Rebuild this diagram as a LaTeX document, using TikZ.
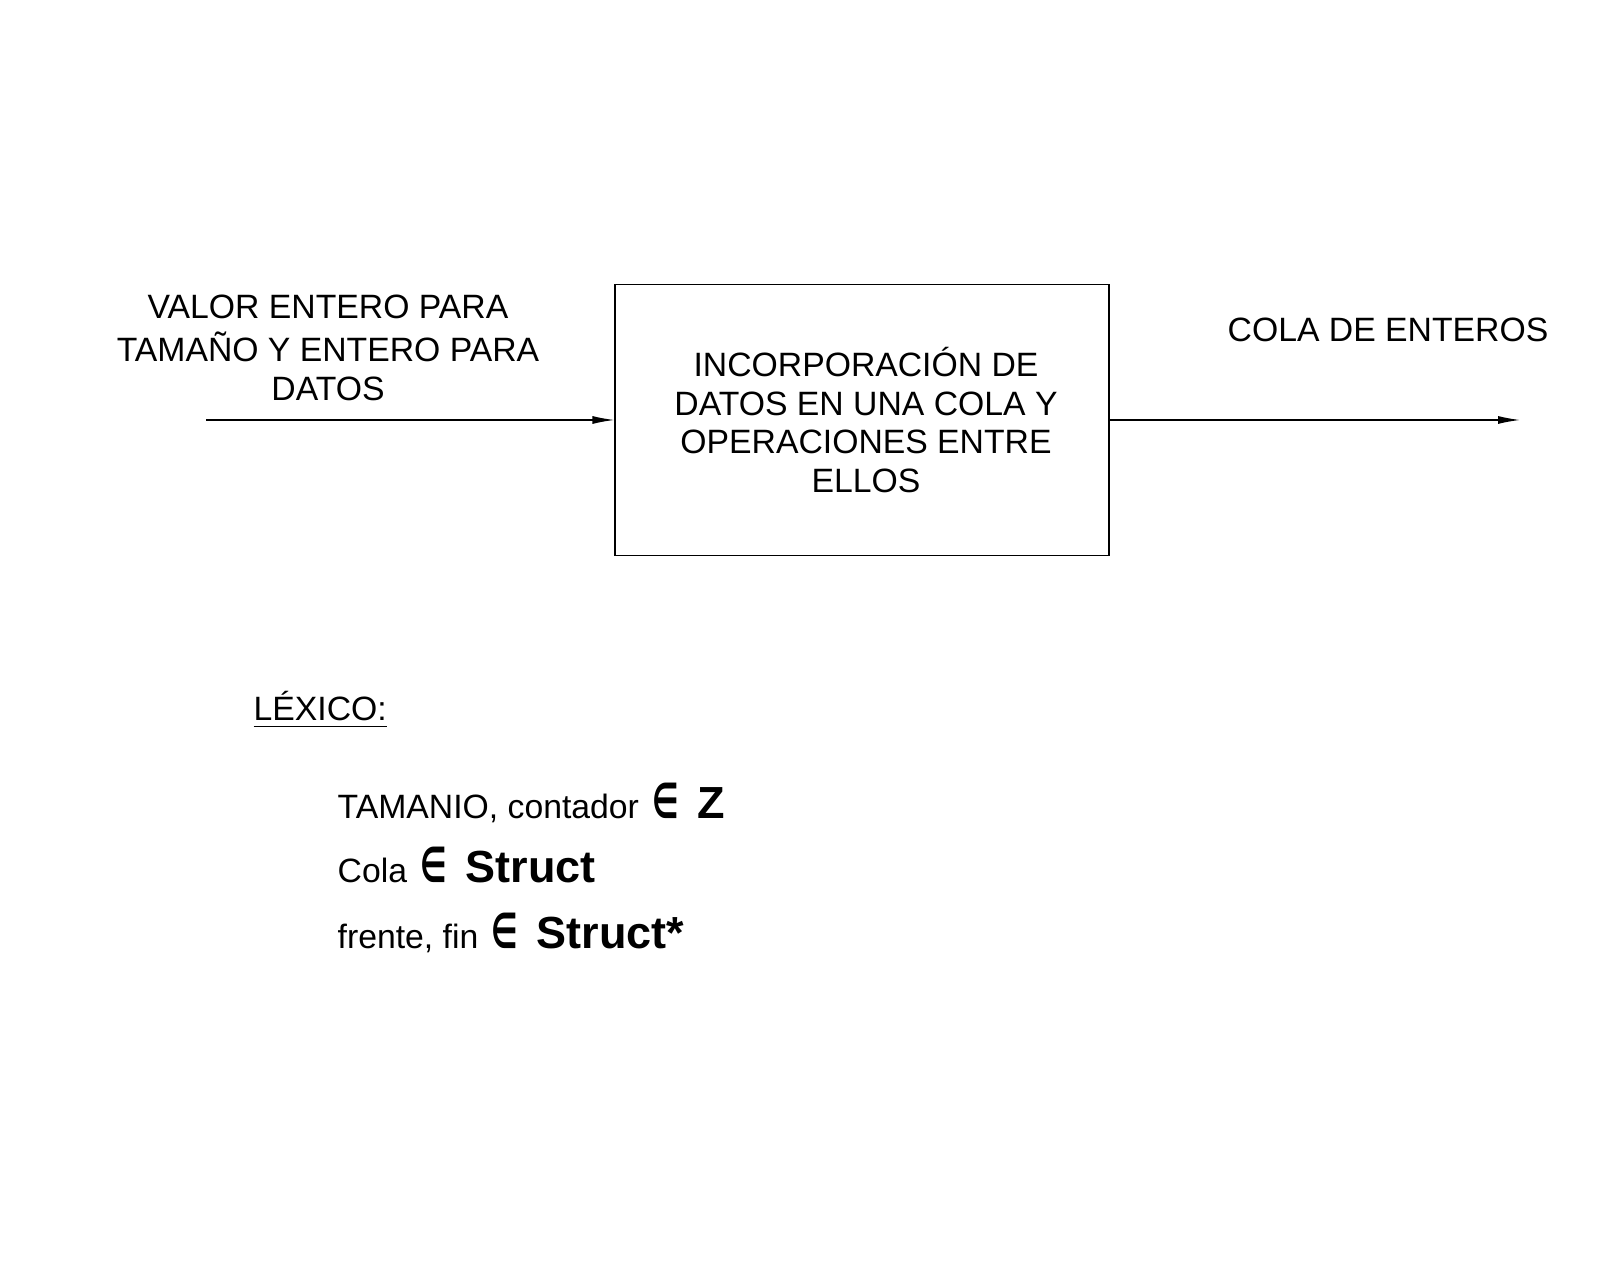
\documentclass[tikz,border=0pt]{standalone}
\usepackage{graphicx}
\usepackage{fontspec}
\setmainfont{Liberation Sans}
\newfontfamily\symfont{DejaVu Sans}
\usetikzlibrary{arrows.meta}

\newcommand{\pertenece}{\hspace{0.4mm}{\symfont\bfseries\fontsize{12}{12}\selectfont\scalebox{0.7}[1.15]{∈}}}
\newcommand{\grande}[1]{{\fontsize{12.8}{13}\selectfont\bfseries #1}}

\begin{document}
\begin{tikzpicture}[
        every node/.style={font=\fontsize{9.6}{11}\selectfont, inner sep=0pt},
        bloque/.style={draw, line width=0.35pt, minimum width=4.94cm, minimum height=2.71cm, align=center},
        flujo/.style={line width=0.35pt, -{Latex[length=2.2mm,width=0.8mm]}},
        etiqueta/.style={align=center},
        lexico/.style={anchor=base west}
    ]
        \useasboundingbox (0, 0) rectangle (16, -12.8);
        % diagrama de caja negra
        \node[bloque] (proceso) at (8.62, -4.2) {\hspace{0.8mm}INCORPORACIÓN DE\\\hspace{0.8mm}DATOS EN UNA COLA Y\\\hspace{0.8mm}OPERACIONES ENTRE\\\hspace{0.8mm}ELLOS};
        \coordinate (entrada) at (2.06, -4.2);
        \coordinate (salida) at (15.2, -4.2);
        \draw[flujo] (entrada) -- (proceso.west);
        \draw[flujo] (proceso.east) -- (salida);
        \node[etiqueta] (datosIn) at (3.28, -3.48) {VALOR ENTERO PARA\\[0.4mm]TAMAÑO Y ENTERO PARA\\DATOS};
        \node[etiqueta] (datosOut) at (13.88, -3.3) {COLA DE ENTEROS};
        % lexico
        \node[lexico] (titulo) at (2.53, -7.21) {\underline{LÉXICO:}};
        \node[lexico] (var1) at (3.37, -8.19) {TAMANIO, contador \pertenece\ \ \grande{Z}};
        \node[lexico] (var2) at (3.37, -8.82) {Cola \pertenece\ \ \grande{Struct}};
        \node[lexico] (var3) at (3.37, -9.48) {frente, fin \pertenece\ \ \grande{Struct*}};
    \end{tikzpicture}
\end{document}
